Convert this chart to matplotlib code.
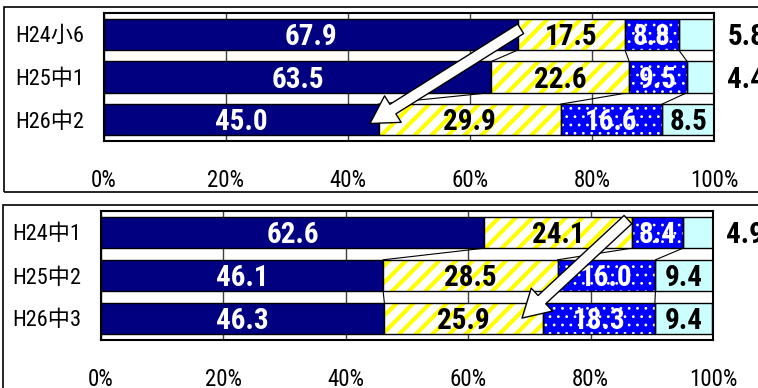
import matplotlib
matplotlib.use("Agg")
import matplotlib.pyplot as plt
from matplotlib.patches import FancyArrowPatch, Rectangle
from matplotlib import font_manager
import numpy as np

# ---- data ----
cats1 = ['H24小6', 'H25中1', 'H26中2']
navy1 = [67.9, 63.5, 45.0]
yellow1 = [17.5, 22.6, 29.9]
blue1 = [8.8, 9.5, 16.6]
cyan1 = [5.8, 4.4, 8.5]

cats2 = ['H24中1', 'H25中2', 'H26中3']
navy2 = [62.6, 46.1, 46.3]
yellow2 = [24.1, 28.5, 25.9]
blue2 = [8.4, 16.0, 18.3]
cyan2 = [4.9, 9.4, 9.4]

xticks = [0, 20, 40, 60, 80, 100]
xticklabels = ['0%', '20%', '40%', '60%', '80%', '100%']

# ---- fonts: look for a condensed latin face ----
entries = font_manager.fontManager.ttflist
names = {f.name for f in entries}
base, stretch = 'Liberation Sans', 'normal'
for cand in ['Liberation Sans Narrow', 'DejaVu Sans Condensed', 'Roboto Condensed',
             'Open Sans Condensed', 'Noto Sans Condensed']:
    if cand in names:
        base, stretch = cand, 'normal'
        break
else:
    for fam in ['DejaVu Sans', 'Noto Sans', 'Roboto', 'Open Sans', 'Liberation Sans']:
        hit = [f for f in entries if f.name == fam and str(f.stretch) in
               ('condensed', 'semi-condensed', 'extra-condensed', 'ultra-condensed', '75', '87.5', '62.5')]
        if hit:
            base, stretch = fam, hit[0].stretch
            break

FAM = [base, 'Noto Sans CJK JP', 'DejaVu Sans']
plt.rcParams['font.family'] = FAM
plt.rcParams['font.stretch'] = stretch
plt.rcParams['hatch.linewidth'] = 3.0

fig = plt.figure(figsize=(7.58, 3.88), dpi=100)
W, H = 758, 388


def fig_rect(x0, y0, x1, y1):
    return [x0 / W, 1 - y1 / H, (x1 - x0) / W, (y1 - y0) / H]


# panel boxes
fig.patches.append(Rectangle((4 / W, 1 - 192 / H), 1.0, (192 - 7) / H,
                             transform=fig.transFigure, fill=False,
                             edgecolor='black', linewidth=1.2, clip_on=False))
fig.patches.append(Rectangle((3 / W, -0.1), 1.0, 0.1 + (388 - 205) / H,
                             transform=fig.transFigure, fill=False,
                             edgecolor='black', linewidth=1.2, clip_on=False))

NAVY = '#000080'
BLUE = '#0000FF'
YEL = '#FFFF00'
CYAN = '#CCFFFF'
BH = 0.73


def draw_panel(rect, cats, navy, yellow, blue, cyan, arrow):
    ax = fig.add_axes(rect)
    y = np.arange(len(cats))
    navy = np.array(navy); yellow = np.array(yellow)
    blue = np.array(blue); cyan = np.array(cyan)
    left_y = navy
    left_b = navy + yellow
    left_c = navy + yellow + blue

    ax.barh(y, navy, height=BH, color=NAVY, edgecolor='black', linewidth=1.0, zorder=2)
    # yellow stripes
    ax.barh(y, yellow, left=left_y, height=BH, color='white', edgecolor=YEL,
            hatch='//', linewidth=0, zorder=2)
    ax.barh(y, yellow, left=left_y, height=BH, fill=False, edgecolor='black',
            linewidth=1.0, zorder=2.1)
    # blue dots
    bb = ax.barh(y, blue, left=left_b, height=BH, color=BLUE, edgecolor='white',
                 hatch='..', linewidth=0, zorder=2)
    for p in bb:
        if hasattr(p, 'set_hatch_linewidth'):
            p.set_hatch_linewidth(0.8)
    ax.barh(y, blue, left=left_b, height=BH, fill=False, edgecolor='black',
            linewidth=1.0, zorder=2.1)
    ax.barh(y, cyan, left=left_c, height=BH, color=CYAN, edgecolor='black',
            linewidth=1.0, zorder=2)

    # series lines
    for b in [navy, left_b, left_c]:
        for i in range(len(cats) - 1):
            ax.plot([b[i], b[i + 1]], [i + BH / 2, i + 1 - BH / 2],
                    color='black', linewidth=0.8, zorder=1.5)

    # value labels
    fs = 21
    kw = dict(fontsize=fs, fontweight='bold', zorder=5, va='center')
    for i in range(len(cats)):
        yy = i + 0.06
        ax.text(navy[i] / 2, yy, f'{navy[i]:.1f}', ha='center', color='white', **kw)
        ax.text(left_y[i] + yellow[i] / 2, yy, f'{yellow[i]:.1f}', ha='center',
                color='black', **kw)
        ax.text(left_b[i] + blue[i] / 2, yy, f'{blue[i]:.1f}', ha='center',
                color='white', **kw)
        if cyan[i] < 6:
            ax.text(102.2, yy, f'{cyan[i]:.1f}', ha='left', color='black',
                    clip_on=False, **kw)
        else:
            ax.text(left_c[i] + cyan[i] / 2, yy, f'{cyan[i]:.1f}', ha='center',
                    color='black', **kw)

    # arrow
    (x0, y0), (x1, y1) = arrow
    ar = FancyArrowPatch((x0, y0), (x1, y1),
                         arrowstyle='simple,head_length=0.65,head_width=0.75,tail_width=0.27',
                         mutation_scale=30, facecolor='white', edgecolor='black',
                         linewidth=1.0, shrinkA=0, shrinkB=0, zorder=6)
    ax.add_patch(ar)

    ax.set_xlim(0, 100)
    ax.set_ylim(len(cats) - 0.5, -0.5)
    ax.set_yticks(y)
    ax.set_yticklabels(cats, fontsize=16)
    ax.set_xticks(xticks)
    ax.set_xticklabels(xticklabels, fontsize=16.5)
    ax.tick_params(axis='both', length=0)
    ax.tick_params(axis='x', pad=20)
    ax.tick_params(axis='y', pad=14)
    ax.xaxis.grid(True, color='#404040', linewidth=1.0, zorder=0)
    ax.set_axisbelow(True)
    for s in ax.spines.values():
        s.set_linewidth(1.5)
        s.set_color('black')
    return ax


draw_panel(fig_rect(104, 13, 714, 141), cats1, navy1, yellow1, blue1, cyan1,
           arrow=((68.3, -0.13), (43.6, 2.09)))
draw_panel(fig_rect(101, 211, 713, 340), cats2, navy2, yellow2, blue2, cyan2,
           arrow=((86.1, -0.30), (68.8, 1.99)))

fig.savefig('out.png', dpi=100)
